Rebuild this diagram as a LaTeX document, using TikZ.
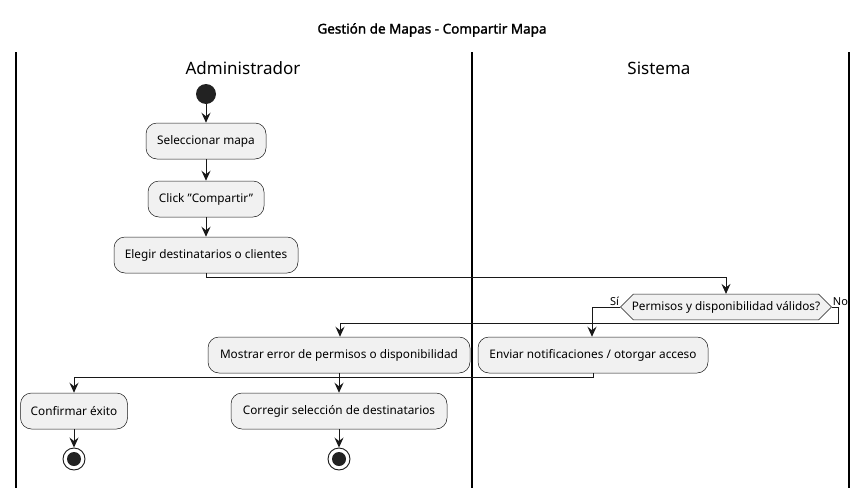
\documentclass[tikz,border=0pt]{standalone}
\usepackage{fontspec}
\setmainfont{Noto Sans}
\newfontfamily\titlefont{Noto Sans}[FakeBold=1.6]
\usetikzlibrary{arrows.meta,shapes.misc,shapes.geometric}
\definecolor{boxfill}{HTML}{F1F1F1}
\definecolor{ink}{HTML}{181818}
\definecolor{dot}{HTML}{222222}
\tikzset{
  act/.style={draw=ink, fill=boxfill, rounded corners=11pt, minimum height=36pt, inner xsep=10pt, font=\fontsize{11.8}{13}\selectfont, line width=0.5pt},
  flow/.style={draw=ink, line width=0.9pt, -{Stealth[length=10pt,width=9pt,inset=3.5pt]}},
  lane/.style={draw=black, line width=1.4pt},
  lanehead/.style={font=\fontsize{17}{20}\selectfont},
  dec/.style={draw=ink, fill=boxfill, chamfered rectangle, chamfered rectangle xsep=11pt, chamfered rectangle angle=45, inner xsep=2pt, minimum height=22pt, font=\fontsize{11.8}{13}\selectfont, line width=0.5pt},
  lbl/.style={font=\fontsize{11}{13}\selectfont, inner sep=1pt}
}
\begin{document}
\begin{tikzpicture}[x=1pt,y=-1pt]
\useasboundingbox (0,0) rectangle (865,498);
\node[font=\fontsize{13.5}{16}\titlefont] (title) at (432,30) {Gestión de Mapas - Compartir Mapa};
\draw[lane] (16,52) -- (16,488);
\draw[lane] (472,52) -- (472,488);
\draw[lane] (849,52) -- (849,488);
\node[lanehead] (h1) at (243,68) {Administrador};
\node[lanehead] (h2) at (659,68) {Sistema};
\node[circle, fill=dot, minimum size=20pt, inner sep=0pt] (start) at (206,94) {};
\node[act, minimum width=120pt] (sel) at (206,141) {Seleccionar mapa};
\node[act, minimum width=116pt] (click) at (206,199) {Click \symbol{34}Compartir\symbol{34}};
\node[act, minimum width=184pt] (eleg) at (206,255) {Elegir destinatarios o clientes};
\node[dec, minimum width=204pt] (d) at (726,307) {Permisos y disponibilidad válidos?};
\node[act, minimum width=262pt] (most) at (339,355) {Mostrar error de permisos o disponibilidad};
\node[act, minimum width=230pt] (env) at (593,355) {Enviar notificaciones / otorgar acceso};
\node[act, minimum width=107pt] (conf) at (74,411) {Confirmar éxito};
\node[act, minimum width=216pt] (corr) at (339,411) {Corregir selección de destinatarios};
\node[circle, draw=ink, line width=0.9pt, fill=white, minimum size=22pt, inner sep=0pt] (e1) at (74,459) {};
\node[circle, fill=dot, minimum size=14pt, inner sep=0pt] at (e1) {};
\node[circle, draw=ink, line width=0.9pt, fill=white, minimum size=22pt, inner sep=0pt] (e2) at (339,459) {};
\node[circle, fill=dot, minimum size=14pt, inner sep=0pt] at (e2) {};
\coordinate (c1) at (206,277);
\coordinate (c2) at (726,277);
\coordinate (c3) at (592,307);
\coordinate (c4) at (838,307);
\coordinate (c5) at (838,323);
\coordinate (c6) at (340,323);
\coordinate (c7) at (593,377);
\coordinate (c8) at (74,377);
\draw[flow] (start) -- (sel);
\draw[flow] (sel) -- (click);
\draw[flow] (click) -- (eleg);
\draw[flow] (eleg.south) -- (c1) -- (c2) -- (d.north);
\draw[flow] (d.west) -- (c3) -- (env.north -| c3);
\draw[flow] (d.east) -- (c4) -- (c5) -- (c6) -- (most.north -| c6);
\draw[flow] (env.south) -- (c7) -- (c8) -- (conf.north);
\draw[flow] (most.south) -- (corr.north);
\draw[flow] (conf) -- (e1);
\draw[flow] (corr) -- (e2);
\node[lbl, anchor=south east] (si) at (d.west) {Sí};
\node[lbl, anchor=south west] (no) at (d.east) {No};
\end{tikzpicture}
\end{document}
